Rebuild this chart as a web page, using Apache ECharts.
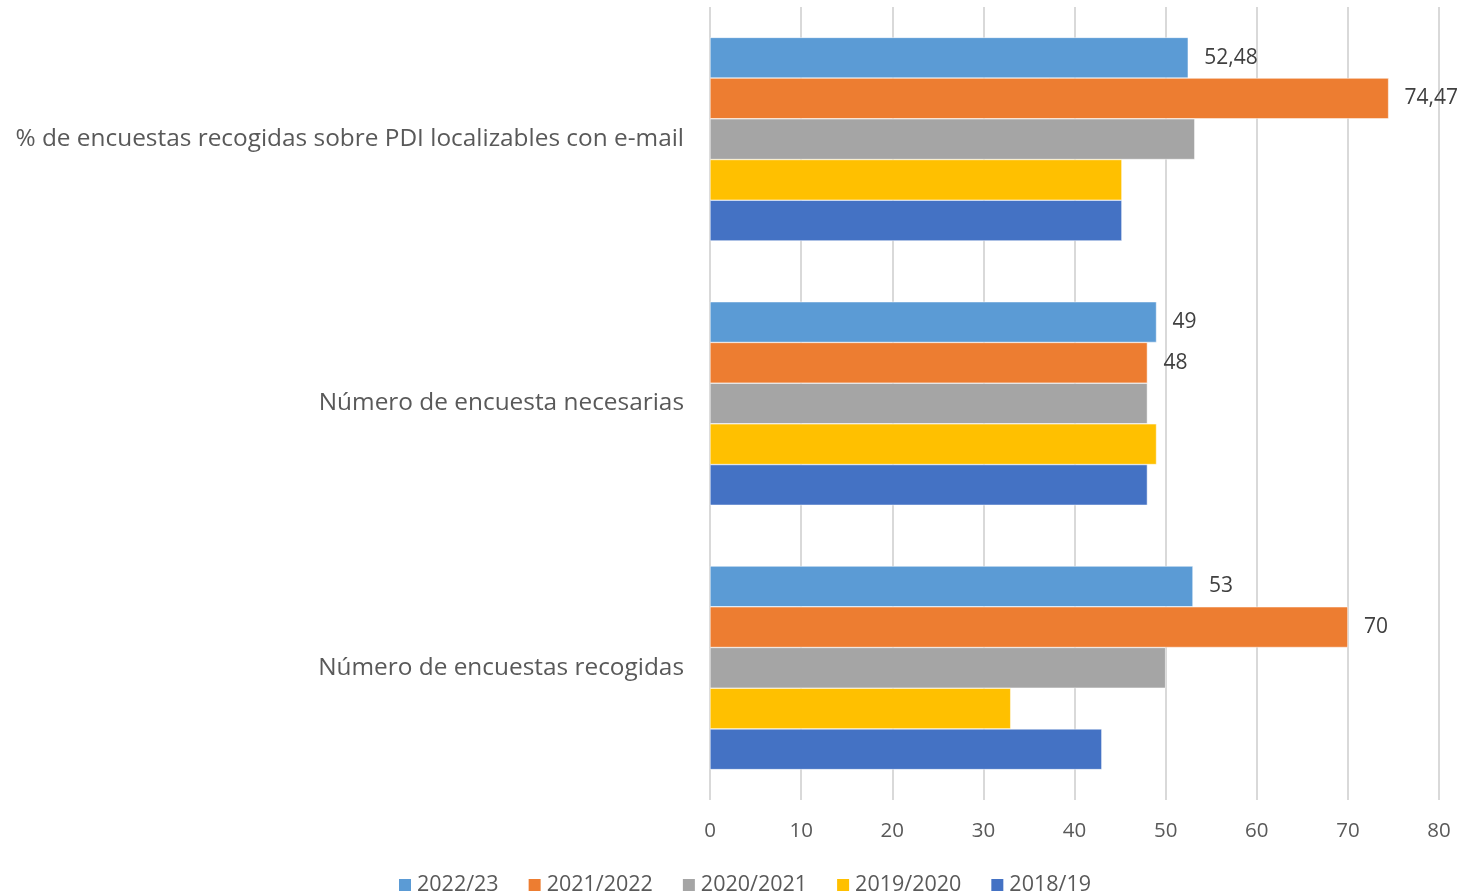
<!DOCTYPE html>
<html><head><meta charset="utf-8">
<script src="https://cdn.jsdelivr.net/npm/echarts@6/dist/echarts.min.js"></script>
<style>html,body{margin:0;padding:0;background:#fff}#c{width:1463px;height:896px}</style>
</head><body><div id="c"></div>
<script>
const categories = ["% de encuestas recogidas sobre PDI localizables con e-mail", "Número de encuesta necesarias", "Número de encuestas recogidas"];
const seriesNames = ["2022/23", "2021/2022", "2020/2021", "2019/2020", "2018/19"];
const s2022_23 = [52.48, 49, 53];
const s2021_2022 = [74.47, 48, 70];
const s2020_2021 = [53.2, 48, 50];
const s2019_2020 = [45.2, 49, 33];
const s2018_19 = [45.2, 48, 43];
const xTicks = {min: 0, max: 80, interval: 10};

const colors = ["#5B9BD5", "#ED7D31", "#A5A5A5", "#FFC000", "#4472C4"];
const values = [s2022_23, s2021_2022, s2020_2021, s2019_2020, s2018_19];
const showLabel = [true, true, false, false, false];
const FONT = "Open Sans";

const chart = echarts.init(document.getElementById('c'));
chart.setOption({
  animation: false,
  color: colors,
  textStyle: {fontFamily: FONT},
  grid: {left: 710, right: 24, top: 7, bottom: 96, containLabel: false},
  legend: {
    bottom: -5, left: 392,
    itemWidth: 14, itemHeight: 14, itemGap: 28,
    icon: 'rect',
    textStyle: {fontSize: 21.5, color: '#595959', fontFamily: FONT},
    data: seriesNames
  },
  xAxis: {
    type: 'value', min: xTicks.min, max: xTicks.max, interval: xTicks.interval,
    axisLine: {show: false}, axisTick: {show: false},
    splitLine: {lineStyle: {color: '#D9D9D9', width: 2}},
    axisLabel: {fontSize: 20.5, color: '#595959', margin: 21, fontFamily: FONT}
  },
  yAxis: {
    type: 'category', data: categories, inverse: true,
    axisLine: {show: false}, axisTick: {show: false},
    axisLabel: {fontSize: 24.4, color: '#595959', margin: 26, fontFamily: FONT}
  },
  series: seriesNames.map((n, i) => ({
    name: n, type: 'bar', data: values[i],
    barGap: '0%', barCategoryGap: '23%',
    itemStyle: {borderColor: '#fff', borderWidth: 0.5},
    label: {
      show: showLabel[i], position: 'right', distance: 16,
      fontSize: 21, color: '#404040', fontFamily: FONT,
      formatter: p => String(p.value).replace('.', ',')
    }
  }))
});
</script></body></html>
